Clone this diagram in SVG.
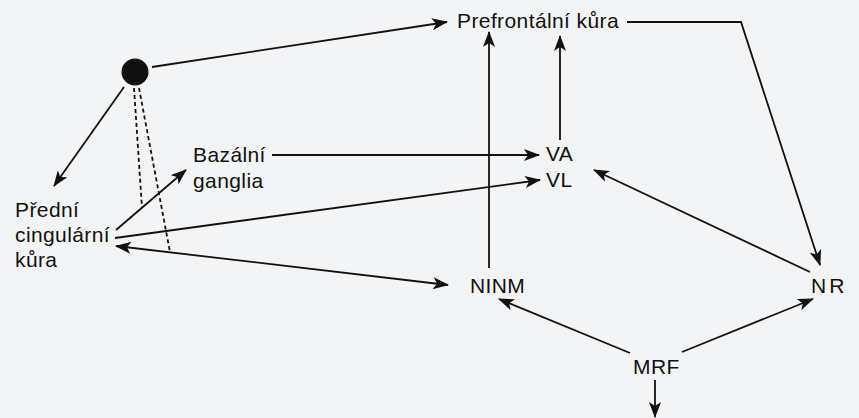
<svg xmlns="http://www.w3.org/2000/svg" width="859" height="418" viewBox="0 0 859 418">
<defs>
<marker id="ah" viewBox="0 0 16 12" refX="15" refY="6" markerWidth="16" markerHeight="12" markerUnits="userSpaceOnUse" orient="auto-start-reverse">
<path d="M0,0 L16,6 L0,12 L4,6 z" fill="#111"/>
</marker>
<style>
.t{font-family:"Liberation Sans",Arial,sans-serif;font-size:21px;letter-spacing:0.4px;fill:#111}
.c{stroke:#111;stroke-width:1.8;fill:none}
.a{marker-end:url(#ah)}
.d{stroke:#111;stroke-width:1.8;fill:none;stroke-dasharray:4 3}
</style>
</defs>
<rect width="859" height="418" fill="#f3f4f6"/>
<g id="connectors">
<line class="c a" x1="152" y1="67" x2="447" y2="22"/>
<line class="c a" x1="124" y1="87" x2="54" y2="186"/>
<line class="d" x1="134" y1="88" x2="142" y2="208"/>
<line class="d" x1="139" y1="88" x2="170" y2="252"/>
<line class="c a" x1="116" y1="230" x2="186" y2="170"/>
<line class="c a" x1="115" y1="238" x2="540" y2="180"/>
<line class="c a" x1="448" y1="285" x2="116" y2="246" style="marker-start:url(#ah)"/>
<line class="c a" x1="272" y1="155" x2="539" y2="155"/>
<line class="c a" x1="560" y1="140" x2="560" y2="36"/>
<line class="c a" x1="489" y1="268" x2="489" y2="32"/>
<polyline class="c a" points="627,22 741,22 820,265"/>
<line class="c a" x1="810" y1="272" x2="594" y2="170"/>
<line class="c a" x1="630" y1="353" x2="499" y2="299"/>
<line class="c a" x1="682" y1="352" x2="813" y2="299"/>
<line class="c a" x1="655" y1="380" x2="655" y2="417"/>
</g>
<g id="source"><circle cx="135" cy="72" r="13.5" fill="#111"/></g>
<g id="prefrontal"><text class="t" x="457" y="28">Prefrontální kůra</text></g>
<g id="va"><text class="t" x="546" y="161">VA</text></g>
<g id="vl"><text class="t" x="546" y="187">VL</text></g>
<g id="bazalni"><text class="t" x="193" y="162">Bazální</text><text class="t" x="193" y="188">ganglia</text></g>
<g id="predni"><text class="t" x="15" y="217">Přední</text><text class="t" x="15" y="242">cingulární</text><text class="t" x="15" y="267">kůra</text></g>
<g id="ninm"><text class="t" x="470" y="293">NINM</text></g>
<g id="nr"><text class="t" x="811" y="293" style="letter-spacing:3px">NR</text></g>
<g id="mrf"><text class="t" x="633" y="374">MRF</text></g>
</svg>
